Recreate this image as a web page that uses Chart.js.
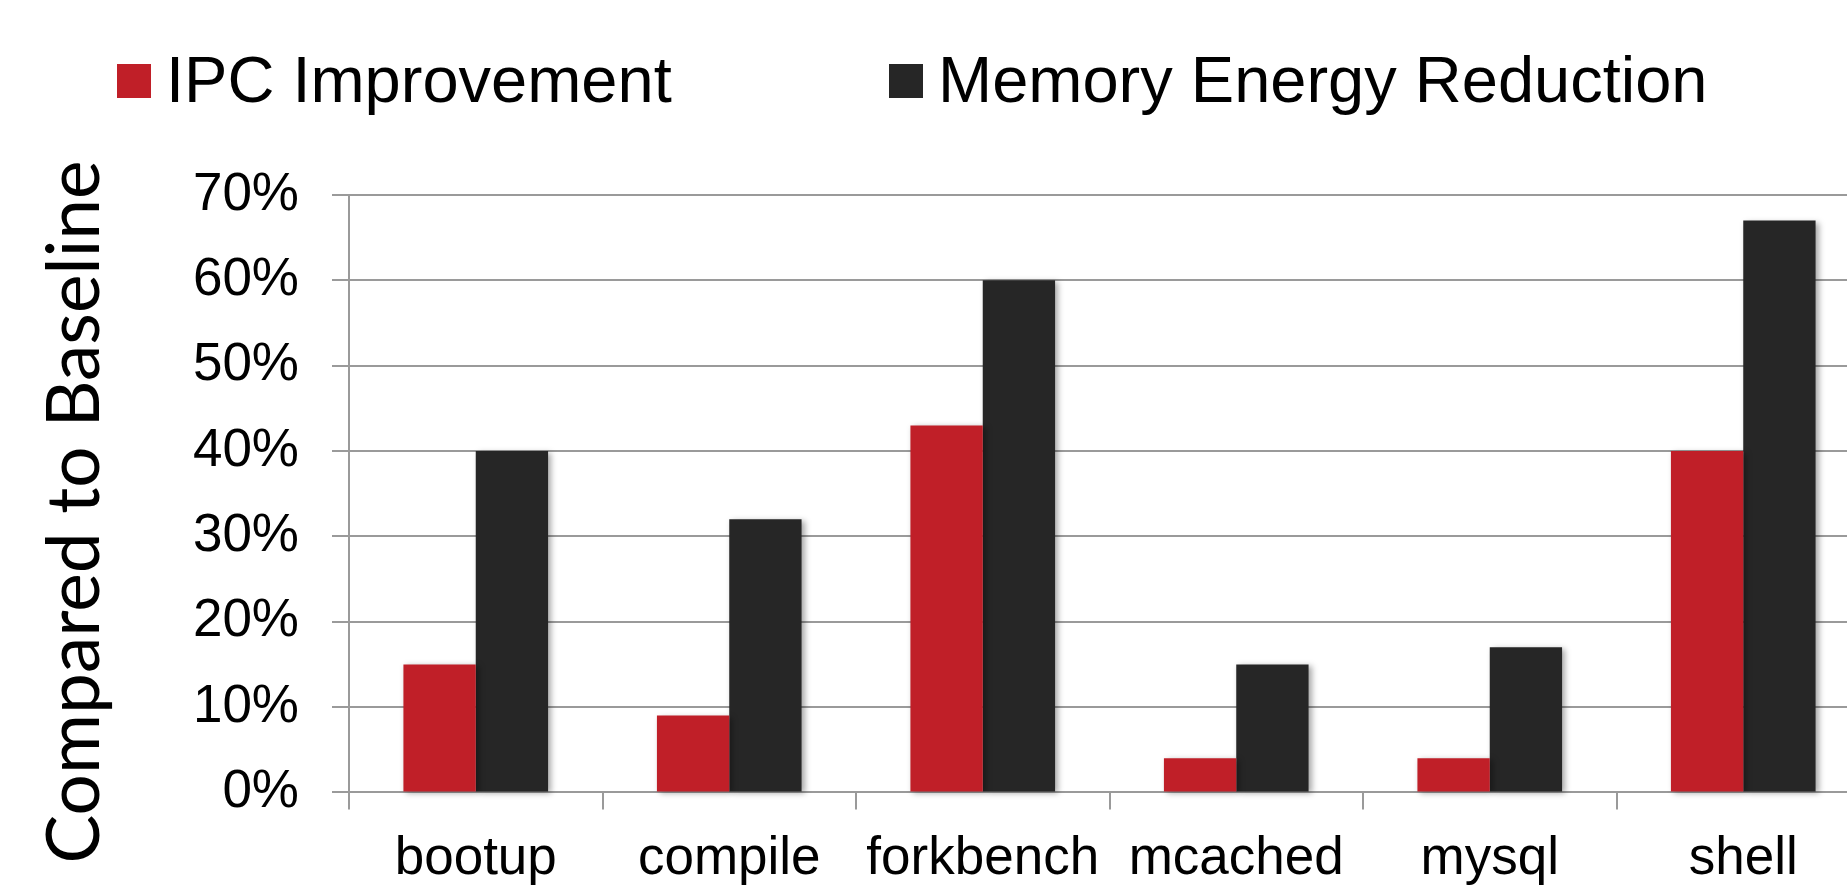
<!DOCTYPE html>
<html>
<head>
<meta charset="utf-8">
<script src="https://cdn.jsdelivr.net/npm/chart.js@4.4.1/dist/chart.umd.min.js"></script>
<style>
  html, body { margin: 0; padding: 0; background: #fff; overflow: hidden; }
  canvas { display: block; }
</style>
</head>
<body>
<canvas id="c" width="1880" height="909"></canvas>
<script>
// Benchmarks and results (percent relative to the baseline system)
const categories = ['bootup', 'compile', 'forkbench', 'mcached', 'mysql', 'shell'];
const ipcImprovement = [15, 9, 43, 4, 4, 40];
const memoryEnergyReduction = [40, 32, 60, 15, 17, 67];
const seriesNames = ['IPC Improvement', 'Memory Energy Reduction'];
const yTickValues = [0, 10, 20, 30, 40, 50, 60, 70];
const yAxisTitle = 'Compared to Baseline';

const RED = '#C01F28';
const BLACK = '#262626';
const GRID = '#9a9a9a';
const SANS = '"Liberation Sans", Arial, Helvetica, sans-serif';

// Soft drop shadow behind the bars
const barShadow = {
  id: 'barShadow',
  beforeDatasetsDraw(chart) {
    const ctx = chart.ctx;
    ctx.save();
    ctx.shadowColor = 'rgba(0,0,0,0.35)';
    ctx.shadowBlur = 6;
    ctx.shadowOffsetX = 3;
    ctx.shadowOffsetY = 2;
  },
  afterDatasetsDraw(chart) {
    chart.ctx.restore();
  }
};

// Legend row across the top and the rotated value-axis title
const legendAndTitle = {
  id: 'legendAndTitle',
  afterDraw(chart) {
    const ctx = chart.ctx;
    ctx.save();
    const boxLeft = [117, 889];
    ctx.font = '65px ' + SANS;
    ctx.textBaseline = 'alphabetic';
    ctx.textAlign = 'left';
    chart.data.datasets.forEach((ds, i) => {
      ctx.fillStyle = ds.backgroundColor;
      ctx.fillRect(boxLeft[i], 64, 34, 34);
      ctx.fillStyle = '#000';
      ctx.fillText(ds.label, boxLeft[i] + 49, 102);
    });

    ctx.translate(99, 512);
    ctx.rotate(-Math.PI / 2);
    ctx.font = '400 73px Lato, "Open Sans", sans-serif';
    ctx.textAlign = 'center';
    ctx.textBaseline = 'alphabetic';
    ctx.fillStyle = '#000';
    ctx.fillText(yAxisTitle, 0, 0);
    ctx.restore();
  }
};

const barStyle = { categoryPercentage: 0.5706, barPercentage: 1, borderWidth: 0, clip: false };

new Chart(document.getElementById('c'), {
  type: 'bar',
  data: {
    labels: categories,
    datasets: [
      Object.assign({ label: seriesNames[0], data: ipcImprovement, backgroundColor: RED }, barStyle),
      Object.assign({ label: seriesNames[1], data: memoryEnergyReduction, backgroundColor: BLACK }, barStyle)
    ]
  },
  options: {
    responsive: false,
    animation: false,
    devicePixelRatio: 1,
    layout: { padding: { top: 195, right: 10, bottom: 0, left: 0 } },
    plugins: {
      legend: { display: false },
      tooltip: { enabled: false }
    },
    scales: {
      x: {
        grid: { display: true, drawOnChartArea: false, drawTicks: true, tickLength: 17, color: GRID, lineWidth: 2, offset: true },
        border: { display: false },
        ticks: { color: '#000', font: { family: SANS, size: 53 }, padding: 18, maxRotation: 0, autoSkip: false }
      },
      y: {
        min: 0,
        max: 70,
        afterFit(scale) { scale.width = 349; },
        afterBuildTicks(scale) { scale.ticks = yTickValues.map(v => ({ value: v })); },
        grid: { color: GRID, lineWidth: 2, tickLength: 17, drawTicks: true },
        border: { display: true, color: GRID, width: 2 },
        ticks: { color: '#000', font: { family: SANS, size: 53 }, padding: 33, callback: v => v + '%' }
      }
    }
  },
  plugins: [barShadow, legendAndTitle]
});
</script>
</body>
</html>
